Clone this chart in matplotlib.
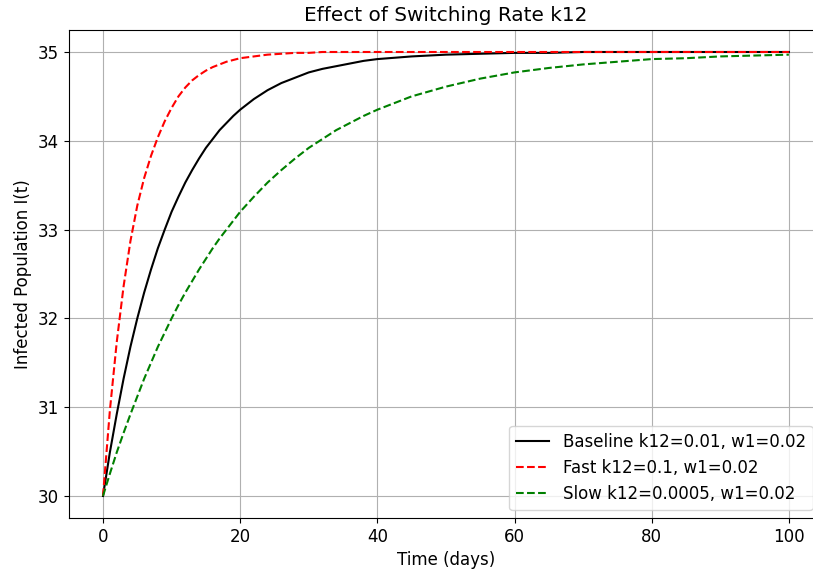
import matplotlib
matplotlib.use('Agg')
from matplotlib import pyplot as plt

# time points (days) and values
t = [0, 1, 2, 3, 4, 5, 6, 7, 8, 9, 10,
     11, 12, 13, 14, 15, 16, 17, 18, 19, 20,
     22, 24, 26, 28, 30, 32, 34, 36, 38, 40,
     45, 50, 55, 60, 65, 70, 75, 80, 85, 90, 95, 100]

baseline = [30.00, 30.49, 30.92, 31.32, 31.68, 32.00, 32.29, 32.55, 32.79, 33.00, 33.20,
            33.37, 33.53, 33.67, 33.80, 33.92, 34.02, 34.12, 34.20, 34.28, 34.35,
            34.47, 34.57, 34.65, 34.71, 34.77, 34.81, 34.84, 34.87, 34.90, 34.92,
            34.95, 34.97, 34.98, 34.99, 34.99, 35.00, 35.00, 35.00, 35.00, 35.00, 35.00, 35.00]

fast = [30.00, 30.96, 31.73, 32.36, 32.87, 33.27, 33.58, 33.83, 34.04, 34.22, 34.37,
        34.50, 34.60, 34.68, 34.74, 34.79, 34.83, 34.86, 34.89, 34.91, 34.93,
        34.95, 34.97, 34.98, 34.99, 34.99, 35.00, 35.00, 35.00, 35.00, 35.00,
        35.00, 35.00, 35.00, 35.00, 35.00, 35.00, 35.00, 35.00, 35.00, 35.00, 35.00, 35.00]

slow = [30.00, 30.25, 30.49, 30.71, 30.92, 31.12, 31.32, 31.50, 31.68, 31.84, 32.00,
        32.15, 32.29, 32.42, 32.55, 32.67, 32.79, 32.90, 33.00, 33.10, 33.20,
        33.37, 33.53, 33.67, 33.80, 33.92, 34.02, 34.12, 34.20, 34.28, 34.35,
        34.50, 34.61, 34.70, 34.77, 34.82, 34.86, 34.89, 34.92, 34.93, 34.95, 34.96, 34.97]

labels = ['Baseline k12=0.01, w1=0.02',
          'Fast k12=0.1, w1=0.02',
          'Slow k12=0.0005, w1=0.02']


def main():
    plt.rcParams['font.size'] = 12

    fig = plt.figure(figsize=(8.13, 5.75), dpi=100)
    # axes run a little past the right edge, as in the reference crop
    ax = fig.add_axes([0.0845, 0.0988, 0.928, 0.8494])

    ax.plot(t, baseline, color='black', linestyle='-', label=labels[0])
    ax.plot(t, fast, color='red', linestyle='--', label=labels[1])
    ax.plot(t, slow, color='green', linestyle='--', label=labels[2])

    ax.set_title('Effect of Switching Rate k12')
    ax.set_xlabel('Time (days)')
    ax.set_ylabel('Infected Population I(t)')
    ax.grid(True)
    ax.legend(loc='lower right', bbox_to_anchor=(0.997, 0.0))

    fig.savefig('out.png', dpi=100)


if __name__ == '__main__':
    main()
